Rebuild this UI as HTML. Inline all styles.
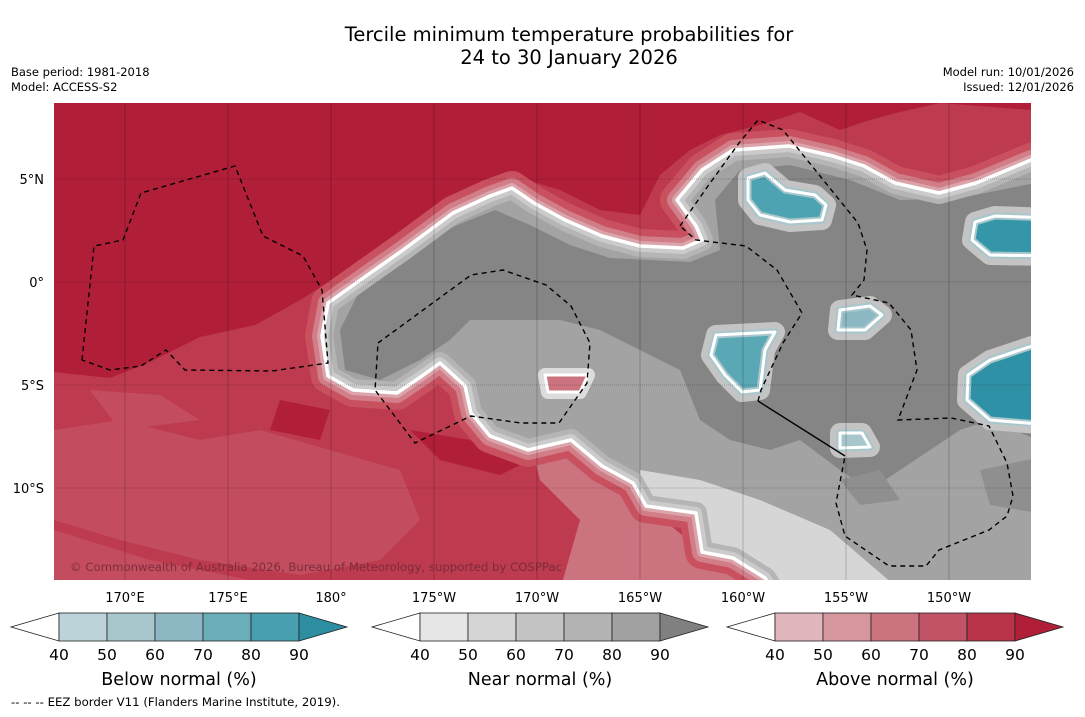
<!DOCTYPE html>
<html><head><meta charset="utf-8">
<style>
html,body{margin:0;padding:0;background:#fff;}
body{width:1085px;height:713px;overflow:hidden;font-family:"DejaVu Sans","Liberation Sans",sans-serif;}
svg text{font-family:"DejaVu Sans","Liberation Sans",sans-serif;}
</style></head>
<body>
<svg id="chart" width="1085" height="713" viewBox="0 0 1085 713" xmlns="http://www.w3.org/2000/svg">
<defs>
  <clipPath id="mapclip"><rect x="54" y="103" width="977" height="477"/></clipPath>
  <clipPath id="greyclip"><polygon id="greyPolyClip" points=""/></clipPath>
</defs>
<rect width="1085" height="713" fill="#fff"/>
<text x="569" y="41" font-size="19.5" text-anchor="middle" fill="#000">Tercile minimum temperature probabilities for</text>
<text x="569" y="64" font-size="19.5" text-anchor="middle" fill="#000">24 to 30 January 2026</text>
<text x="11" y="76" font-size="11.5">Base period: 1981-2018</text>
<text x="11" y="91" font-size="11.5">Model: ACCESS-S2</text>
<text x="1074" y="76" font-size="11.5" text-anchor="end">Model run: 10/01/2026</text>
<text x="1074" y="91" font-size="11.5" text-anchor="end">Issued: 12/01/2026</text>

<g id="map" clip-path="url(#mapclip)"></g>
<g id="grid"></g>
<g id="eez" clip-path="url(#mapclip)"></g>
<text x="70" y="571" font-size="11.6" fill="#6e2a35" fill-opacity="0.85" textLength="492" lengthAdjust="spacingAndGlyphs">© Commonwealth of Australia 2026, Bureau of Meteorology, supported by COSPPac</text>
<g id="lonlabels"></g>
<g id="latlabels"></g>
<g id="bars"></g>
<text x="11" y="706" font-size="11.5" textLength="329" lengthAdjust="spacingAndGlyphs">--  --  -- EEZ border V11 (Flanders Marine Institute, 2019).</text>
</svg>
<script>
const levels=[40,50,60,70,80,90];
const belowColors=["#bdd3da","#a7c7cc","#8bb8c3","#6aaeb8","#479fb0","#2d8ea2"];
const nearColors=["#e6e6e6","#d5d5d5","#c4c4c4","#b3b3b3","#a1a1a1","#808080"];
const aboveColors=["#e1b6bc","#d6969d","#cb747f","#c15466","#b83347","#b01e38"];
const barTitles=["Below normal (%)","Near normal (%)","Above normal (%)"];
const barStarts=[59,420,775];
const lonTicks=[170,175,180,-175,-170,-165,-160,-155,-150];
const lonLabels=["170°E","175°E","180°","175°W","170°W","165°W","160°W","155°W","150°W"];
const latTicks=[5,0,-5,-10];
const latLabels=["5°N","0°","5°S","10°S"];

const NS="http://www.w3.org/2000/svg";
function mk(t,a,p){const e=document.createElementNS(NS,t);for(const k in a)e.setAttribute(k,a[k]);p.appendChild(e);return e;}
const lon2x=l=>{const L=l<0?l+360:l;return 125+(L-170)*20.6;};
const lat2y=l=>282-l*20.6;

const map=document.getElementById('map');
let r=mk('rect',{x:54,y:103,width:977,height:477,fill:"#bd3a4f"},map);

const blobs=[[[54,430],[120,420],[200,440],[260,430],[330,450],[400,470],[420,520],[380,560],[300,575],[200,560],[120,540],[54,520]],
 [[54,530],[150,560],[250,580],[54,580]],[[90,390],[160,395],[200,420],[120,430]]];
blobs.forEach(b=>{const p=mk('polygon',{points:b.join(' '),fill:"#c44c5f"},map);});
const dark=[[54,103],[1031,103],[1031,110],[940,103],[900,112],[870,120],[840,130],[800,112],[760,125],[720,135],[690,150],[660,175],[640,215],[600,210],[560,190],[520,178],[480,185],[430,210],[380,245],[340,275],[300,300],[255,325],[200,337],[150,362],[110,378],[54,372]];
let d=mk('polygon',{points:dark.join(' '),fill:"#b01e38"},map);
[[[410,430],[470,440],[520,465],[500,475],[440,460]],[[280,400],[330,410],[320,440],[270,430]]].forEach(b=>{const p=mk('polygon',{points:b.join(' '),fill:"#b01e38"},map);});
const pinkA=[[530,440],[600,470],[640,500],[700,550],[770,590],[560,590],[580,520],[540,480]];
let pk=mk('polygon',{points:pinkA.join(' '),fill:"#cb747f"},map);
const grey=[[328,303],[366,276],[403,250],[453,213],[490,196],[512,188],[534,203],[565,220],[602,236],[640,246],[683,248],[702,240],[696,226],[677,200],[702,170],[733,150],[789,146],[833,156],[864,166],[895,183],[939,193],[976,183],[1031,160],[1050,155],[1050,600],[780,600],[765,578],[733,558],[702,552],[696,513],[646,506],[633,483],[602,466],[571,440],[528,450],[490,436],[471,413],[465,386],[440,363],[422,376],[397,393],[353,390],[328,376],[322,336]];
const gpts=grey.join(' ');
document.getElementById('greyPolyClip').setAttribute('points',gpts);
[[34,"#c8505f"],[20,"#d17e89"],[10,"#dba4ab"]].forEach(s=>{const p=mk('polygon',{points:gpts,fill:"none",stroke:s[1],'stroke-width':s[0],'stroke-linejoin':'round'},map);});
let gp=mk('polygon',{points:gpts,fill:"#a3a3a3"},map);
const gclip=mk('g',{'clip-path':'url(#greyclip)'},map);
const light=[[640,470],[700,480],[760,500],[830,530],[900,590],[640,590]];
let lt=mk('polygon',{points:light.join(' '),fill:"#d6d6d6"},gclip);
const core=[[345,370],[340,330],[360,290],[400,262],[450,228],[495,210],[530,225],[570,245],[610,258],[690,262],[720,250],[715,200],[740,170],[790,165],[850,180],[900,200],[960,198],[1050,180],[1050,445],[990,420],[960,430],[930,450],[900,470],[870,490],[840,470],[800,440],[770,450],[730,440],[700,420],[680,370],[640,350],[600,330],[560,320],[520,320],[470,320],[450,340],[420,360],[380,380]];
let cp=mk('polygon',{points:core.join(' '),fill:"#858585"},gclip);
[[[980,470],[1050,455],[1050,515],[990,505]],[[840,480],[880,470],[900,500],[860,505]]].forEach(b=>{const p=mk('polygon',{points:b.join(' '),fill:"#8f8f8f"},gclip);});
[[22,"#b5b5b5"],[12,"#cbcbcb"]].forEach(s=>{const p=mk('polygon',{points:gpts,fill:"none",stroke:s[1],'stroke-width':s[0],'stroke-linejoin':'round'},gclip);});
let wb=mk('polygon',{points:gpts,fill:"none",stroke:"#fff",'stroke-width':3.5,'stroke-linejoin':'round'},map);

const blues=[
 [[748,178],[765,173],[785,190],[815,195],[826,205],[822,220],[790,222],[760,215],[748,200]],
 [[975,222],[995,216],[1050,218],[1050,256],[990,255],[972,240]],
 [[716,335],[775,332],[765,350],[760,390],[742,392],[725,375],[711,355]],
 [[990,360],[1050,340],[1050,425],[990,420],[967,400],[968,375]],
 [[840,310],[870,306],[882,315],[865,330],[838,330]],
 [[840,433],[862,433],[870,447],[840,448]]];
const blueCore=["#4ea3b2","#3496a8","#5aa8b6","#2f91a5","#8bb8c3","#a7c7cc"];
blues.forEach((b,i)=>{
  const pts=b.join(' ');
  let h=mk('polygon',{points:pts,fill:"none",stroke:"#c4c4c4",'stroke-width':20,'stroke-linejoin':'round'},map);
  
  let p=mk('polygon',{points:pts,fill:blueCore[i],stroke:"#a7c7cc",'stroke-width':7,'stroke-linejoin':'round'},map);
  
  let w=mk('polygon',{points:pts,fill:"none",stroke:"#fff",'stroke-width':3,'stroke-linejoin':'round'},map);
  
});
const redPatch=[[545,375],[588,375],[580,392],[548,392]];
let rh=mk('polygon',{points:redPatch.join(' '),fill:"#cb747f",stroke:"#dcdcdc",'stroke-width':14,'stroke-linejoin':'round'},map);

let rp=mk('polygon',{points:redPatch.join(' '),fill:"#cb747f",stroke:"#fff",'stroke-width':3,'stroke-linejoin':'round'},map);


const grid=document.getElementById('grid');
lonTicks.forEach(l=>{const x=lon2x(l);const e=mk('line',{x1:x,y1:103,x2:x,y2:580,stroke:"#000",'stroke-opacity':0.35,'stroke-width':0.6},grid);});
latTicks.forEach(l=>{const y=lat2y(l);const e=mk('line',{x1:54,y1:y,x2:1031,y2:y,stroke:"#000",'stroke-opacity':0.45,'stroke-width':0.6,'stroke-dasharray':'1 1'},grid);});
const ll=document.getElementById('lonlabels');
lonTicks.forEach((l,i)=>{const t=mk('text',{x:lon2x(l),y:602,'font-size':13,'text-anchor':'middle'},ll);t.textContent=lonLabels[i];});
const la=document.getElementById('latlabels');
latTicks.forEach((l,i)=>{const t=mk('text',{x:44,y:lat2y(l)+5,'font-size':13,'text-anchor':'end'},la);t.textContent=latLabels[i];});

const eez=document.getElementById('eez');
const eezLines=[
 [[82,360],[94,246],[123,240],[141,193],[235,166],[263,236],[303,256],[322,290],[328,363],[272,371],[185,370],[166,350],[141,366],[110,370],[82,360]],
 [[378,343],[471,275],[503,270],[546,285],[571,306],[590,343],[587,383],[559,423],[521,423],[471,416],[415,443],[375,390],[378,343]],
 [[680,226],[708,186],[739,143],[758,120],[783,130],[820,176],[858,223],[867,250],[864,280],[852,295],[889,303],[911,330],[917,370],[898,420],[951,418],[989,426],[1007,463],[1013,496],[1007,516],[989,530],[939,550],[926,566],[889,566],[845,536],[836,503],[845,456]],
 [[758,401],[761,390],[783,343],[802,313],[777,270],[746,246],[696,240],[680,226]]];
eezLines.forEach(L=>{const e=mk('polyline',{points:L.join(' '),fill:"none",stroke:"#000",'stroke-width':1.4,'stroke-dasharray':'5 4'},eez);});
let s=mk('polyline',{points:"758,401 845,456",fill:"none",stroke:"#000",'stroke-width':1.4},eez);

const bars=document.getElementById('bars');
const sets=[belowColors,nearColors,aboveColors];
const bw=48,y0=613,y1=641,ym=627;
sets.forEach((cols,bi)=>{
  const x0=barStarts[bi];
  const g=mk('g',{},bars);
  
  
  const lt=mk('polygon',{points:`${x0},${y0} ${x0-bw},${ym} ${x0},${y1}`,fill:"#fff",stroke:"#222",'stroke-width':0.8},g);
  
  for(let i=0;i<levels.length-1;i++){
    const rc=mk('rect',{x:x0+i*bw,y:y0,width:bw,height:y1-y0,fill:cols[i],stroke:"#222",'stroke-width':0.8},g);
    
  }
  const xe=x0+(levels.length-1)*bw;
  const rt=mk('polygon',{points:`${xe},${y0} ${xe+bw},${ym} ${xe},${y1}`,fill:cols[5],stroke:"#222",'stroke-width':0.8},g);
  
  levels.forEach((v,i)=>{const t=mk('text',{x:x0+i*bw,y:660,'font-size':15.5,'text-anchor':'middle'},g);t.textContent=v;});
  const tt=mk('text',{x:x0+2.5*bw,y:685,'font-size':17.5,'text-anchor':'middle'},g);tt.textContent=barTitles[bi];
  
});
</script>
</body></html>
